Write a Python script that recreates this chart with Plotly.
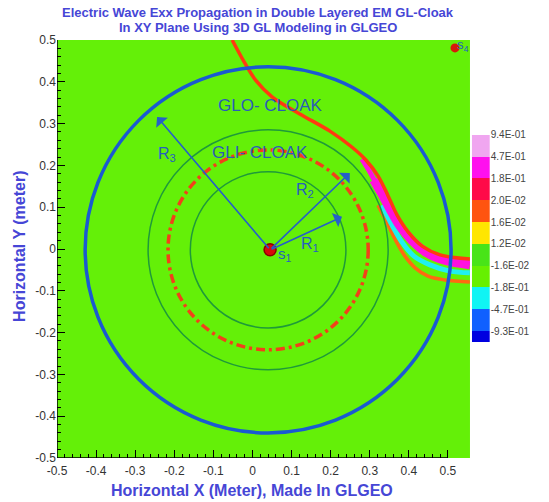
import plotly.graph_objects as go
import numpy as np

# ---------------- data ----------------
x_tick_vals = [-0.5, -0.4, -0.3, -0.2, -0.1, 0.0, 0.1, 0.2, 0.3, 0.4, 0.5]
x_tick_text = ["-0.5", "-0.4", "-0.3", "-0.2", "-0.1", "0", "0.1", "0.2", "0.3", "0.4", "0.5"]
y_tick_vals = [-0.5, -0.4, -0.3, -0.2, -0.1, 0.0, 0.1, 0.2, 0.3, 0.4, 0.5]
y_tick_text = ["-0.5", "-0.4", "-0.3", "-0.2", "-0.1", "0", "0.1", "0.2", "0.3", "0.4", "0.5"]

# wave front bands (x, y in metres)
wave_red_x = [-0.052, -0.021, 0.008, 0.050, 0.121, 0.198, 0.254, 0.290, 0.321, 0.347, 0.370, 0.398, 0.434, 0.480, 0.556]
wave_red_y = [0.500, 0.447, 0.404, 0.364, 0.323, 0.282, 0.244, 0.213, 0.175, 0.127, 0.081, 0.041, 0.007, -0.014, -0.024]
wave_mag_thin_x = [0.280, 0.300, 0.320]
wave_mag_thin_y = [0.215, 0.185, 0.150]
wave_mag_x = [0.310, 0.330, 0.352, 0.377, 0.408, 0.444, 0.492, 0.556]
wave_mag_y = [0.165, 0.133, 0.095, 0.055, 0.020, -0.008, -0.027, -0.038]
wave_cyan_x = [0.331, 0.357, 0.382, 0.413, 0.454, 0.505, 0.556]
wave_cyan_y = [0.105, 0.057, 0.017, -0.017, -0.038, -0.053, -0.057]
wave_org_x = [0.321, 0.347, 0.370, 0.390, 0.416, 0.449, 0.492, 0.556]
wave_org_y = [0.105, 0.057, 0.014, -0.017, -0.045, -0.065, -0.074, -0.079]

# cloak circles: centre and radii (x-radius, y-radius)
cloak_cx, cloak_cy = 0.040, -0.002
r_blue = (0.468, 0.438)
r_green_outer = (0.307, 0.287)
r_red = (0.256, 0.239)
r_green_inner = (0.199, 0.187)

# sources
s1_x, s1_y = 0.045, -0.002
s4_x, s4_y = 0.518, 0.481

# radius arrows (tip positions)
arrow_names = ["R<sub>1</sub>", "R<sub>2</sub>", "R<sub>3</sub>"]
arrow_tip_x = [0.229, 0.249, -0.244]
arrow_tip_y = [0.077, 0.182, 0.316]
arrow_lab_x = [0.147, 0.134, -0.219]
arrow_lab_y = [0.010, 0.141, 0.225]

# legend colour bar
cb_labels = ["9.4E-01", "4.7E-01", "1.8E-01", "2.0E-02", "1.6E-02",
             "1.2E-02", "-1.6E-02", "-1.8E-01", "-4.7E-01", "-9.3E-01"]
cb_colors = ["#f0a6f0", "#ff10ee", "#ff0a48", "#ff5410", "#ffe600",
             "#48e418", "#66f000", "#10f4f4", "#1060ff", "#0000e0"]

FIELD = "#64f008"
FONT = "Liberation Sans, Arial, sans-serif"
TITLE_C = "#4646d6"

fig = go.Figure()

# wave traces
fig.add_trace(go.Scatter(x=wave_org_x, y=wave_org_y, mode="lines",
                         line=dict(color="#ff6a10", width=3.5, shape="spline"), hoverinfo="skip"))
fig.add_trace(go.Scatter(x=wave_cyan_x, y=wave_cyan_y, mode="lines",
                         line=dict(color="#20f0f0", width=5, shape="spline"), hoverinfo="skip"))
fig.add_trace(go.Scatter(x=wave_mag_thin_x, y=wave_mag_thin_y, mode="lines",
                         line=dict(color="#ff10e0", width=5, shape="spline"), hoverinfo="skip"))
fig.add_trace(go.Scatter(x=wave_mag_x, y=wave_mag_y, mode="lines",
                         line=dict(color="#ff10e0", width=9, shape="spline"), hoverinfo="skip"))
fig.add_trace(go.Scatter(x=wave_red_x, y=wave_red_y, mode="lines",
                         line=dict(color="#ff3a10", width=3.5, shape="spline"), hoverinfo="skip"))

# sources
fig.add_trace(go.Scatter(x=[s1_x], y=[s1_y], mode="markers",
                         marker=dict(size=12, color="#d80a0a", line=dict(color="#8a0000", width=1.5)),
                         hoverinfo="skip"))
fig.add_trace(go.Scatter(x=[s4_x], y=[s4_y], mode="markers",
                         marker=dict(size=9, color="#d81a0a"), hoverinfo="skip"))

# colour bar as heatmap on its own axes
n = len(cb_colors)
cb_bottom_up = cb_colors[::-1]
cscale = []
for k, c in enumerate(cb_bottom_up):
    cscale.append([k / n, c])
    cscale.append([(k + 1) / n, c])
fig.add_trace(go.Heatmap(z=[[k] for k in range(n)], x=[0], y=[k + 0.5 for k in range(n)],
                         colorscale=cscale, zmin=-0.5, zmax=n - 0.5, showscale=False,
                         xaxis="x2", yaxis="y2", hoverinfo="skip"))

shapes = []
# field
shapes.append(dict(type="rect", xref="x", yref="y", x0=-0.5, x1=0.5563, y0=-0.5, y1=0.5,
                   fillcolor=FIELD, line=dict(width=0), layer="below"))
# circles
def ell(r, color, width, dash="solid"):
    return dict(type="circle", xref="x", yref="y",
                x0=cloak_cx - r[0], x1=cloak_cx + r[0], y0=cloak_cy - r[1], y1=cloak_cy + r[1],
                line=dict(color=color, width=width, dash=dash), layer="above")
shapes.append(ell(r_green_inner, "#1f9a3a", 1.5))
shapes.append(ell(r_green_outer, "#1f9a3a", 1.5))
shapes.append(ell(r_red, "#f2401a", 3.5, "9px,4px,3px,4px"))
shapes.append(ell(r_blue, "#1a5ad2", 3.5))
# axis lines
shapes.append(dict(type="line", xref="x", yref="y", x0=-0.5, x1=0.5, y0=-0.5, y1=-0.5,
                   line=dict(color="black", width=1.5), layer="above"))
shapes.append(dict(type="line", xref="x", yref="y", x0=-0.5, x1=-0.5, y0=-0.5, y1=0.5,
                   line=dict(color="black", width=1.5), layer="above"))

ann = []
# titles
ann.append(dict(text="<b>Electric Wave Exx Propagation in Double Layered EM GL-Cloak</b>",
                xref="paper", yref="paper", x=0.416, y=1.065, showarrow=False,
                font=dict(family=FONT, size=13, color=TITLE_C), xanchor="center", yanchor="middle"))
ann.append(dict(text="<b>In XY Plane Using 3D GL Modeling in GLGEO</b>",
                xref="paper", yref="paper", x=0.416, y=1.031, showarrow=False,
                font=dict(family=FONT, size=13, color=TITLE_C), xanchor="center", yanchor="middle"))
ann.append(dict(text="<b>Horizontal X (Meter), Made In GLGEO</b>",
                xref="paper", yref="paper", x=0.404, y=-0.0766, showarrow=False,
                font=dict(family=FONT, size=16, color=TITLE_C), xanchor="center", yanchor="middle"))
ann.append(dict(text="<b>Horizontal Y (meter)</b>", textangle=-90,
                xref="paper", yref="paper", x=-0.0766, y=0.505, showarrow=False,
                font=dict(family=FONT, size=16, color=TITLE_C), xanchor="center", yanchor="middle"))
# cloak labels
ann.append(dict(text="GLO- CLOAK", x=0.047, y=0.344, xref="x", yref="y", showarrow=False,
                font=dict(family=FONT, size=17, color="#2a5cb8")))
ann.append(dict(text="GLI- CLOAK", x=0.019, y=0.232, xref="x", yref="y", showarrow=False,
                font=dict(family=FONT, size=17, color="#2a5cb8")))
# arrows
for nm, tx, ty, lx, ly in zip(arrow_names, arrow_tip_x, arrow_tip_y, arrow_lab_x, arrow_lab_y):
    ann.append(dict(x=tx, y=ty, ax=s1_x, ay=s1_y, xref="x", yref="y", axref="x", ayref="y",
                    text="", showarrow=True, arrowhead=1, arrowsize=1.6, arrowwidth=1.6,
                    arrowcolor="#2560c8"))
    ann.append(dict(text=nm, x=lx, y=ly, xref="x", yref="y", showarrow=False,
                    font=dict(family=FONT, size=16, color="#2560c0")))
ann.append(dict(text="s<sub>1</sub>", x=0.083, y=-0.014, xref="x", yref="y", showarrow=False,
                font=dict(family=FONT, size=15, color="#2560c0")))
ann.append(dict(text="s<sub>4</sub>", x=0.538, y=0.486, xref="x", yref="y", showarrow=False,
                font=dict(family=FONT, size=13, color="#2560c0")))

minor_vals = [round(v, 2) for v in np.arange(-0.5, 0.5001, 0.02)]

fig.update_layout(
    width=549, height=502,
    margin=dict(l=57, r=9, t=40, b=44),
    paper_bgcolor="white", plot_bgcolor="white",
    showlegend=False,
    shapes=shapes, annotations=ann,
    xaxis=dict(domain=[0, 0.855], range=[-0.5, 0.5563], tickmode="array",
               tickvals=x_tick_vals, ticktext=x_tick_text, ticks="inside", ticklen=8,
               tickcolor="black", tickwidth=1, showgrid=False, zeroline=False, showline=False,
               tickfont=dict(family=FONT, size=12, color="#333"), ticklabelstandoff=4,
               minor=dict(tickmode="array", tickvals=minor_vals, ticks="inside", ticklen=4,
                          tickcolor="black", showgrid=False),
               anchor="y"),
    yaxis=dict(domain=[0, 1], range=[-0.5, 0.5], tickmode="array",
               tickvals=y_tick_vals, ticktext=y_tick_text, ticks="inside", ticklen=8,
               tickcolor="black", tickwidth=1, showgrid=False, zeroline=False, showline=False,
               tickfont=dict(family=FONT, size=12, color="#333"),
               minor=dict(tickmode="array", tickvals=minor_vals, ticks="inside", ticklen=4,
                          tickcolor="black", showgrid=False),
               anchor="x"),
    xaxis2=dict(domain=[0.859, 0.896], range=[-0.5, 0.5], visible=False, anchor="y2"),
    yaxis2=dict(domain=[0.2775, 0.773], range=[0.5, n], anchor="x2", side="right",
                tickmode="array", tickvals=list(range(n, 0, -1)), ticktext=cb_labels,
                ticks="", showgrid=False, zeroline=False, showline=False,
                tickfont=dict(family=FONT, size=10, color="#444")),
)

fig.write_html("out.html")
